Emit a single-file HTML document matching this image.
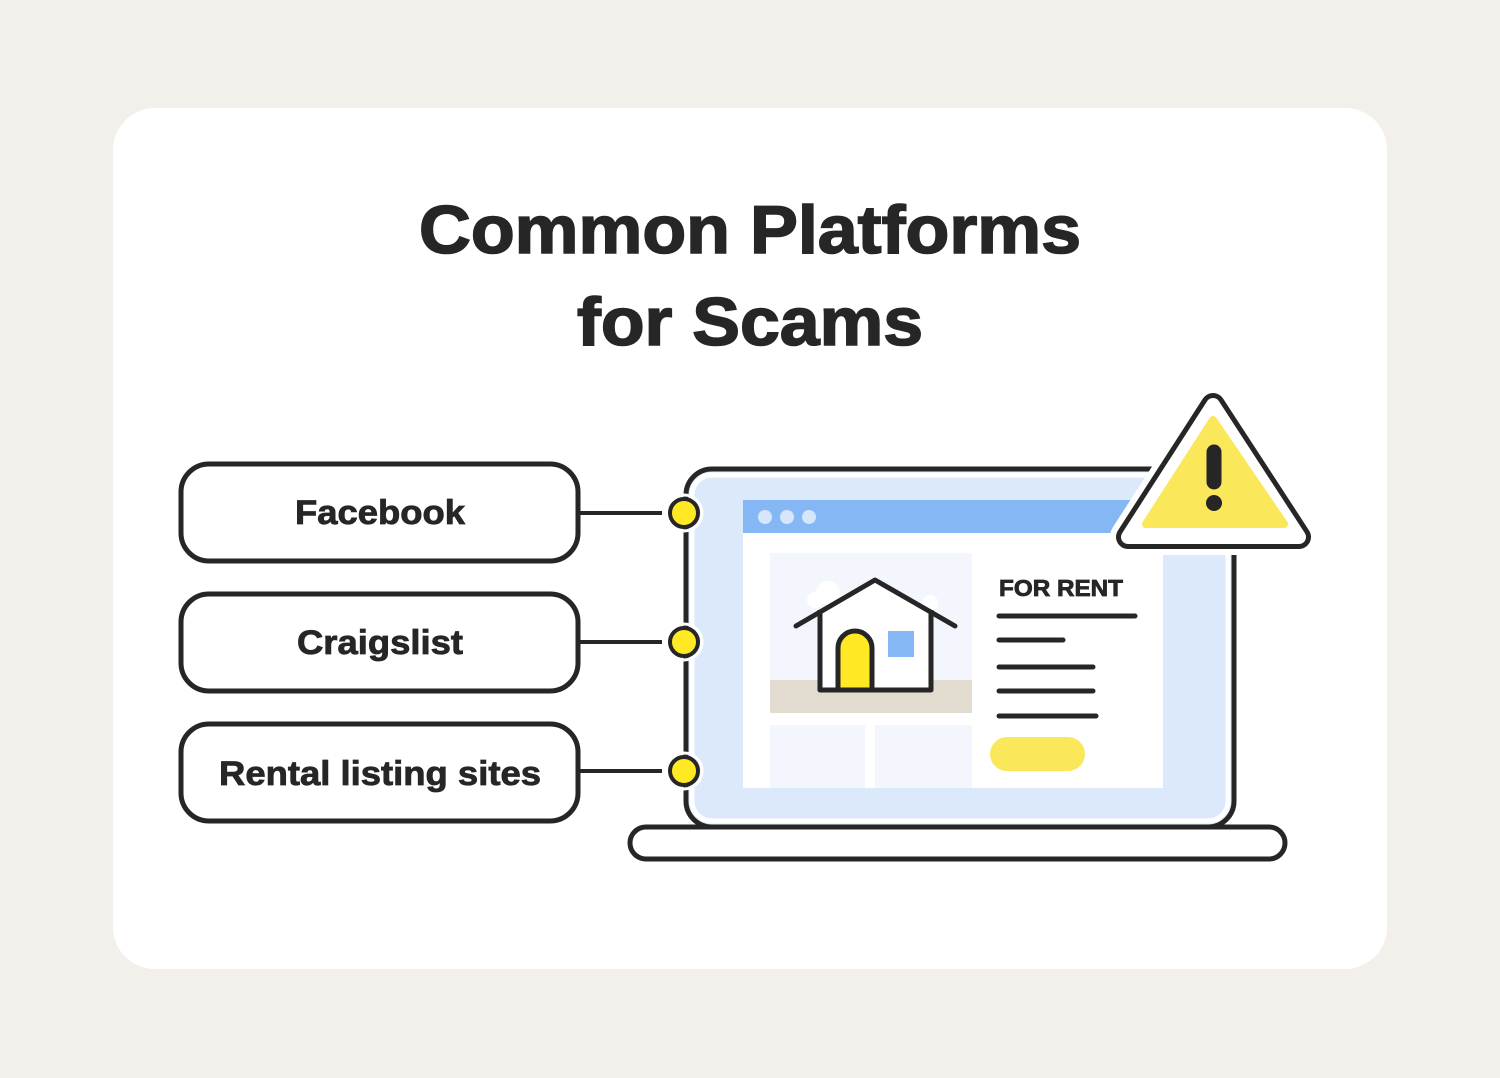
<!DOCTYPE html>
<html><head><meta charset="utf-8"><style>
html,body{margin:0;padding:0;background:#f3f0eb;}
svg{display:block;}
text{font-family:"Liberation Sans",Arial,sans-serif;font-weight:bold;fill:#262626;}
.t{stroke:#262626;stroke-width:1.6;}
.l{stroke:#262626;stroke-width:0.8;}
</style></head><body>
<svg width="1500" height="1078" viewBox="0 0 1500 1078" xmlns="http://www.w3.org/2000/svg">
<rect x="0" y="0" width="1500" height="1078" fill="#f3f0eb"/>
<rect x="113" y="108" width="1274" height="861" rx="42" fill="#fff"/>
<text class="t" x="750" y="253" font-size="68" text-anchor="middle" textLength="662" lengthAdjust="spacingAndGlyphs">Common Platforms</text>
<text class="t" x="750" y="345" font-size="68" text-anchor="middle" textLength="346" lengthAdjust="spacingAndGlyphs">for Scams</text>

<g fill="#fff" stroke="#262626" stroke-width="5">
<rect x="181" y="464" width="397" height="97" rx="28"/>
<rect x="181" y="594" width="397" height="97" rx="28"/>
<rect x="181" y="724" width="397" height="97" rx="28"/>
</g>
<text class="l" x="380" y="524" font-size="34" text-anchor="middle" textLength="170" lengthAdjust="spacingAndGlyphs">Facebook</text>
<text class="l" x="380" y="654" font-size="34" text-anchor="middle" textLength="166" lengthAdjust="spacingAndGlyphs">Craigslist</text>
<text class="l" x="380" y="785" font-size="34" text-anchor="middle" textLength="322" lengthAdjust="spacingAndGlyphs">Rental listing sites</text>
<g stroke="#262626" stroke-width="4">
<line x1="578" y1="513" x2="662" y2="513"/>
<line x1="578" y1="642" x2="662" y2="642"/>
<line x1="578" y1="771" x2="662" y2="771"/>
</g>

<rect x="686" y="469" width="548" height="358" rx="26" fill="#dce9fb" stroke="#262626" stroke-width="5"/>
<rect x="692" y="475" width="536" height="346" rx="20" fill="none" stroke="#fff" stroke-width="5"/>
<rect x="743" y="500" width="420" height="288" fill="#fff"/>
<rect x="743" y="500" width="420" height="33" fill="#86b7f5"/>
<g fill="#d6e6fb"><circle cx="765" cy="517" r="7"/><circle cx="787" cy="517" r="7"/><circle cx="809" cy="517" r="7"/></g>
<rect x="770" y="553" width="202" height="160" fill="#f3f7fd"/>
<rect x="770" y="680" width="202" height="33" fill="#e2dbcf"/>
<rect x="770" y="725" width="95" height="63" fill="#f3f7fd"/>
<rect x="875" y="725" width="97" height="63" fill="#f3f7fd"/>
<g fill="#fff"><circle cx="828" cy="593" r="12"/><circle cx="815" cy="600" r="8"/><circle cx="930" cy="603" r="8"/></g>
<path d="M820 610 V690 H931 V610 L875 580 Z" fill="#fff"/>
<path d="M796 626 L875 580 L955 626" fill="none" stroke="#262626" stroke-width="5" stroke-linecap="round" stroke-linejoin="round"/>
<path d="M820 610 V690 H931 V610" fill="none" stroke="#262626" stroke-width="5" stroke-linejoin="round"/>
<path d="M838 690 V648 A17 17 0 0 1 872 648 V690 Z" fill="#ffe925" stroke="#262626" stroke-width="5"/>
<rect x="888" y="631" width="26" height="26" fill="#86b7f5"/>
<text class="l" x="999" y="596" font-size="23" textLength="124" lengthAdjust="spacingAndGlyphs">FOR RENT</text>
<g stroke="#262626" stroke-width="5" stroke-linecap="round">
<line x1="999" y1="616" x2="1135" y2="616"/>
<line x1="999" y1="640" x2="1063" y2="640"/>
<line x1="999" y1="667" x2="1093" y2="667"/>
<line x1="999" y1="691" x2="1093" y2="691"/>
<line x1="999" y1="716" x2="1096" y2="716"/>
</g>
<rect x="990" y="737" width="95" height="34" rx="17" fill="#fae85a"/>
<rect x="630" y="827" width="655" height="32" rx="16" fill="#fff" stroke="#262626" stroke-width="5"/>

<g fill="#ffe925" stroke="#262626" stroke-width="4">
<circle cx="684" cy="513" r="14"/>
<circle cx="684" cy="642" r="14"/>
<circle cx="684" cy="771" r="14"/>
</g>
<g fill="none" stroke="#fff" stroke-width="3">
<circle cx="684" cy="513" r="18"/>
<circle cx="684" cy="642" r="18"/>
<circle cx="684" cy="771" r="18"/>
</g>

<!-- warning -->
<path d="M1213 405 L1128 537 L1299 537 Z" fill="#fff" stroke="#fff" stroke-width="36" stroke-linejoin="round"/>
<path d="M1213 405 L1128 537 L1299 537 Z" fill="#fff" stroke="#262626" stroke-width="24" stroke-linejoin="round"/>
<path d="M1213 405 L1128 537 L1299 537 Z" fill="#fff" stroke="#fff" stroke-width="14" stroke-linejoin="round"/>
<path d="M1213 420 L1146 524 L1284 524 Z" fill="#fae85a" stroke="#fae85a" stroke-width="8" stroke-linejoin="round"/>
<line x1="1214" y1="452" x2="1214" y2="482" stroke="#262626" stroke-width="15" stroke-linecap="round"/>
<circle cx="1214" cy="503" r="8" fill="#262626"/>
</svg>
</body></html>
